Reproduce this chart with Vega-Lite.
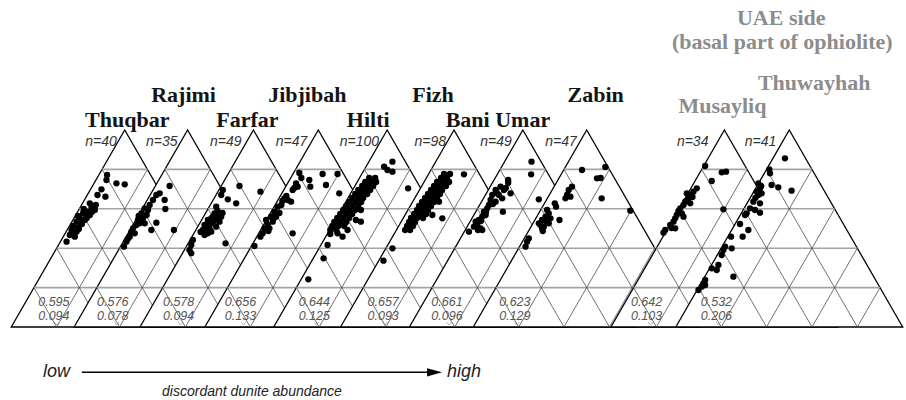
{
"$schema": "https://vega.github.io/schema/vega-lite/v6.json",
"width": 906, "height": 400, "padding": 0,
"autosize": {"type": "fit", "contains": "padding"},
"background": "white",
"config": {"view": {"stroke": null}},
"datasets": {
"tri": [
{"t":1,"x":11.3,"y":327,"yb":327},{"t":1,"x":125,"y":130,"yb":327},{"t":1,"x":238.7,"y":327,"yb":327},
{"t":2,"x":74.3,"y":327,"yb":327},{"t":2,"x":188,"y":130,"yb":327},{"t":2,"x":301.7,"y":327,"yb":327},
{"t":3,"x":140.3,"y":327,"yb":327},{"t":3,"x":254,"y":130,"yb":327},{"t":3,"x":367.7,"y":327,"yb":327},
{"t":4,"x":205.3,"y":327,"yb":327},{"t":4,"x":319,"y":130,"yb":327},{"t":4,"x":432.7,"y":327,"yb":327},
{"t":5,"x":274.3,"y":327,"yb":327},{"t":5,"x":388,"y":130,"yb":327},{"t":5,"x":501.7,"y":327,"yb":327},
{"t":6,"x":341.3,"y":327,"yb":327},{"t":6,"x":455,"y":130,"yb":327},{"t":6,"x":568.7,"y":327,"yb":327},
{"t":7,"x":410.3,"y":327,"yb":327},{"t":7,"x":524,"y":130,"yb":327},{"t":7,"x":637.7,"y":327,"yb":327},
{"t":8,"x":474.3,"y":327,"yb":327},{"t":8,"x":588,"y":130,"yb":327},{"t":8,"x":701.7,"y":327,"yb":327},
{"t":9,"x":612.3,"y":327,"yb":327},{"t":9,"x":726,"y":130,"yb":327},{"t":9,"x":839.7,"y":327,"yb":327},
{"t":10,"x":677.3,"y":327,"yb":327},{"t":10,"x":791,"y":130,"yb":327},{"t":10,"x":904.7,"y":327,"yb":327}
],
"grid": [
{"t":1,"k":"h","x":34,"y":287.6,"x2":216,"y2":287.6},{"t":1,"k":"h","x":56.8,"y":248.2,"x2":193.2,"y2":248.2},{"t":1,"k":"h","x":79.5,"y":208.8,"x2":170.5,"y2":208.8},{"t":1,"k":"h","x":102.2,"y":169.4,"x2":147.8,"y2":169.4},
{"t":1,"k":"d","x":56.8,"y":327,"x2":147.8,"y2":169.4},{"t":1,"k":"d","x":102.2,"y":327,"x2":170.5,"y2":208.8},{"t":1,"k":"d","x":147.8,"y":327,"x2":193.2,"y2":248.2},{"t":1,"k":"d","x":193.2,"y":327,"x2":216,"y2":287.6},
{"t":1,"k":"d","x":193.2,"y":327,"x2":102.2,"y2":169.4},{"t":1,"k":"d","x":147.8,"y":327,"x2":79.5,"y2":208.8},{"t":1,"k":"d","x":102.2,"y":327,"x2":56.8,"y2":248.2},{"t":1,"k":"d","x":56.8,"y":327,"x2":34,"y2":287.6},
{"t":2,"k":"h","x":97,"y":287.6,"x2":279,"y2":287.6},{"t":2,"k":"h","x":119.8,"y":248.2,"x2":256.2,"y2":248.2},{"t":2,"k":"h","x":142.5,"y":208.8,"x2":233.5,"y2":208.8},{"t":2,"k":"h","x":165.2,"y":169.4,"x2":210.8,"y2":169.4},
{"t":2,"k":"d","x":119.8,"y":327,"x2":210.8,"y2":169.4},{"t":2,"k":"d","x":165.2,"y":327,"x2":233.5,"y2":208.8},{"t":2,"k":"d","x":210.8,"y":327,"x2":256.2,"y2":248.2},{"t":2,"k":"d","x":256.2,"y":327,"x2":279,"y2":287.6},
{"t":2,"k":"d","x":256.2,"y":327,"x2":165.2,"y2":169.4},{"t":2,"k":"d","x":210.8,"y":327,"x2":142.5,"y2":208.8},{"t":2,"k":"d","x":165.2,"y":327,"x2":119.8,"y2":248.2},{"t":2,"k":"d","x":119.8,"y":327,"x2":97,"y2":287.6},
{"t":3,"k":"h","x":163,"y":287.6,"x2":345,"y2":287.6},{"t":3,"k":"h","x":185.8,"y":248.2,"x2":322.2,"y2":248.2},{"t":3,"k":"h","x":208.5,"y":208.8,"x2":299.5,"y2":208.8},{"t":3,"k":"h","x":231.2,"y":169.4,"x2":276.8,"y2":169.4},
{"t":3,"k":"d","x":185.8,"y":327,"x2":276.8,"y2":169.4},{"t":3,"k":"d","x":231.2,"y":327,"x2":299.5,"y2":208.8},{"t":3,"k":"d","x":276.8,"y":327,"x2":322.2,"y2":248.2},{"t":3,"k":"d","x":322.2,"y":327,"x2":345,"y2":287.6},
{"t":3,"k":"d","x":322.2,"y":327,"x2":231.2,"y2":169.4},{"t":3,"k":"d","x":276.8,"y":327,"x2":208.5,"y2":208.8},{"t":3,"k":"d","x":231.2,"y":327,"x2":185.8,"y2":248.2},{"t":3,"k":"d","x":185.8,"y":327,"x2":163,"y2":287.6},
{"t":4,"k":"h","x":228,"y":287.6,"x2":410,"y2":287.6},{"t":4,"k":"h","x":250.8,"y":248.2,"x2":387.2,"y2":248.2},{"t":4,"k":"h","x":273.5,"y":208.8,"x2":364.5,"y2":208.8},{"t":4,"k":"h","x":296.2,"y":169.4,"x2":341.8,"y2":169.4},
{"t":4,"k":"d","x":250.8,"y":327,"x2":341.8,"y2":169.4},{"t":4,"k":"d","x":296.2,"y":327,"x2":364.5,"y2":208.8},{"t":4,"k":"d","x":341.8,"y":327,"x2":387.2,"y2":248.2},{"t":4,"k":"d","x":387.2,"y":327,"x2":410,"y2":287.6},
{"t":4,"k":"d","x":387.2,"y":327,"x2":296.2,"y2":169.4},{"t":4,"k":"d","x":341.8,"y":327,"x2":273.5,"y2":208.8},{"t":4,"k":"d","x":296.2,"y":327,"x2":250.8,"y2":248.2},{"t":4,"k":"d","x":250.8,"y":327,"x2":228,"y2":287.6},
{"t":5,"k":"h","x":297,"y":287.6,"x2":479,"y2":287.6},{"t":5,"k":"h","x":319.8,"y":248.2,"x2":456.2,"y2":248.2},{"t":5,"k":"h","x":342.5,"y":208.8,"x2":433.5,"y2":208.8},{"t":5,"k":"h","x":365.2,"y":169.4,"x2":410.8,"y2":169.4},
{"t":5,"k":"d","x":319.8,"y":327,"x2":410.8,"y2":169.4},{"t":5,"k":"d","x":365.2,"y":327,"x2":433.5,"y2":208.8},{"t":5,"k":"d","x":410.8,"y":327,"x2":456.2,"y2":248.2},{"t":5,"k":"d","x":456.2,"y":327,"x2":479,"y2":287.6},
{"t":5,"k":"d","x":456.2,"y":327,"x2":365.2,"y2":169.4},{"t":5,"k":"d","x":410.8,"y":327,"x2":342.5,"y2":208.8},{"t":5,"k":"d","x":365.2,"y":327,"x2":319.8,"y2":248.2},{"t":5,"k":"d","x":319.8,"y":327,"x2":297,"y2":287.6},
{"t":6,"k":"h","x":364,"y":287.6,"x2":546,"y2":287.6},{"t":6,"k":"h","x":386.8,"y":248.2,"x2":523.2,"y2":248.2},{"t":6,"k":"h","x":409.5,"y":208.8,"x2":500.5,"y2":208.8},{"t":6,"k":"h","x":432.2,"y":169.4,"x2":477.8,"y2":169.4},
{"t":6,"k":"d","x":386.8,"y":327,"x2":477.8,"y2":169.4},{"t":6,"k":"d","x":432.2,"y":327,"x2":500.5,"y2":208.8},{"t":6,"k":"d","x":477.8,"y":327,"x2":523.2,"y2":248.2},{"t":6,"k":"d","x":523.2,"y":327,"x2":546,"y2":287.6},
{"t":6,"k":"d","x":523.2,"y":327,"x2":432.2,"y2":169.4},{"t":6,"k":"d","x":477.8,"y":327,"x2":409.5,"y2":208.8},{"t":6,"k":"d","x":432.2,"y":327,"x2":386.8,"y2":248.2},{"t":6,"k":"d","x":386.8,"y":327,"x2":364,"y2":287.6},
{"t":7,"k":"h","x":433,"y":287.6,"x2":615,"y2":287.6},{"t":7,"k":"h","x":455.8,"y":248.2,"x2":592.2,"y2":248.2},{"t":7,"k":"h","x":478.5,"y":208.8,"x2":569.5,"y2":208.8},{"t":7,"k":"h","x":501.2,"y":169.4,"x2":546.8,"y2":169.4},
{"t":7,"k":"d","x":455.8,"y":327,"x2":546.8,"y2":169.4},{"t":7,"k":"d","x":501.2,"y":327,"x2":569.5,"y2":208.8},{"t":7,"k":"d","x":546.8,"y":327,"x2":592.2,"y2":248.2},{"t":7,"k":"d","x":592.2,"y":327,"x2":615,"y2":287.6},
{"t":7,"k":"d","x":592.2,"y":327,"x2":501.2,"y2":169.4},{"t":7,"k":"d","x":546.8,"y":327,"x2":478.5,"y2":208.8},{"t":7,"k":"d","x":501.2,"y":327,"x2":455.8,"y2":248.2},{"t":7,"k":"d","x":455.8,"y":327,"x2":433,"y2":287.6},
{"t":8,"k":"h","x":497,"y":287.6,"x2":679,"y2":287.6},{"t":8,"k":"h","x":519.8,"y":248.2,"x2":656.2,"y2":248.2},{"t":8,"k":"h","x":542.5,"y":208.8,"x2":633.5,"y2":208.8},{"t":8,"k":"h","x":565.2,"y":169.4,"x2":610.8,"y2":169.4},
{"t":8,"k":"d","x":519.8,"y":327,"x2":610.8,"y2":169.4},{"t":8,"k":"d","x":565.2,"y":327,"x2":633.5,"y2":208.8},{"t":8,"k":"d","x":610.8,"y":327,"x2":656.2,"y2":248.2},{"t":8,"k":"d","x":656.2,"y":327,"x2":679,"y2":287.6},
{"t":8,"k":"d","x":656.2,"y":327,"x2":565.2,"y2":169.4},{"t":8,"k":"d","x":610.8,"y":327,"x2":542.5,"y2":208.8},{"t":8,"k":"d","x":565.2,"y":327,"x2":519.8,"y2":248.2},{"t":8,"k":"d","x":519.8,"y":327,"x2":497,"y2":287.6},
{"t":9,"k":"h","x":635,"y":287.6,"x2":817,"y2":287.6},{"t":9,"k":"h","x":657.8,"y":248.2,"x2":794.2,"y2":248.2},{"t":9,"k":"h","x":680.5,"y":208.8,"x2":771.5,"y2":208.8},{"t":9,"k":"h","x":703.2,"y":169.4,"x2":748.8,"y2":169.4},
{"t":9,"k":"d","x":657.8,"y":327,"x2":748.8,"y2":169.4},{"t":9,"k":"d","x":703.2,"y":327,"x2":771.5,"y2":208.8},{"t":9,"k":"d","x":748.8,"y":327,"x2":794.2,"y2":248.2},{"t":9,"k":"d","x":794.2,"y":327,"x2":817,"y2":287.6},
{"t":9,"k":"d","x":794.2,"y":327,"x2":703.2,"y2":169.4},{"t":9,"k":"d","x":748.8,"y":327,"x2":680.5,"y2":208.8},{"t":9,"k":"d","x":703.2,"y":327,"x2":657.8,"y2":248.2},{"t":9,"k":"d","x":657.8,"y":327,"x2":635,"y2":287.6},
{"t":10,"k":"h","x":700,"y":287.6,"x2":882,"y2":287.6},{"t":10,"k":"h","x":722.8,"y":248.2,"x2":859.2,"y2":248.2},{"t":10,"k":"h","x":745.5,"y":208.8,"x2":836.5,"y2":208.8},{"t":10,"k":"h","x":768.2,"y":169.4,"x2":813.8,"y2":169.4},
{"t":10,"k":"d","x":722.8,"y":327,"x2":813.8,"y2":169.4},{"t":10,"k":"d","x":768.2,"y":327,"x2":836.5,"y2":208.8},{"t":10,"k":"d","x":813.8,"y":327,"x2":859.2,"y2":248.2},{"t":10,"k":"d","x":859.2,"y":327,"x2":882,"y2":287.6},
{"t":10,"k":"d","x":859.2,"y":327,"x2":768.2,"y2":169.4},{"t":10,"k":"d","x":813.8,"y":327,"x2":745.5,"y2":208.8},{"t":10,"k":"d","x":768.2,"y":327,"x2":722.8,"y2":248.2},{"t":10,"k":"d","x":722.8,"y":327,"x2":700,"y2":287.6}
],
"pts": [
{"t":1,"x":107.3,"y":175},{"t":1,"x":106.7,"y":180},{"t":1,"x":116.7,"y":183.3},{"t":1,"x":125,"y":184.3},{"t":1,"x":101.7,"y":189.3},{"t":1,"x":97.7,"y":195},{"t":1,"x":105.7,"y":196.7},{"t":1,"x":90,"y":203.3},{"t":1,"x":93.3,"y":208.3},{"t":1,"x":91.7,"y":206.7},{"t":1,"x":95,"y":210},{"t":1,"x":88.3,"y":211.7},{"t":1,"x":83.3,"y":213.3},{"t":1,"x":90,"y":215},{"t":1,"x":86.7,"y":216},{"t":1,"x":80,"y":218.3},{"t":1,"x":85,"y":220},{"t":1,"x":76.7,"y":221.7},{"t":1,"x":81.7,"y":223.3},{"t":1,"x":73.3,"y":226},{"t":1,"x":78.3,"y":227.3},{"t":1,"x":71.7,"y":230},{"t":1,"x":76.7,"y":231.7},{"t":1,"x":70,"y":235},{"t":1,"x":75,"y":236.7},{"t":1,"x":66.7,"y":241.7},{"t":1,"x":92,"y":212},{"t":1,"x":87,"y":218},{"t":1,"x":82,"y":224},{"t":1,"x":79,"y":229},{"t":1,"x":74,"y":233},{"t":1,"x":96,"y":205},{"t":1,"x":84,"y":209},{"t":1,"x":78,"y":216},
{"t":2,"x":170,"y":186},{"t":2,"x":160,"y":193.3},{"t":2,"x":156.7,"y":195},{"t":2,"x":153.3,"y":200},{"t":2,"x":165,"y":200},{"t":2,"x":165.7,"y":209},{"t":2,"x":150,"y":205},{"t":2,"x":148.3,"y":210},{"t":2,"x":145,"y":208.3},{"t":2,"x":141.7,"y":213.3},{"t":2,"x":143.3,"y":218.3},{"t":2,"x":138.3,"y":220},{"t":2,"x":156.7,"y":222.7},{"t":2,"x":151.7,"y":230},{"t":2,"x":174.3,"y":230},{"t":2,"x":136.7,"y":225},{"t":2,"x":133.3,"y":228.3},{"t":2,"x":135,"y":233.3},{"t":2,"x":130,"y":236.7},{"t":2,"x":126.7,"y":241.7},{"t":2,"x":124.3,"y":246.7},{"t":2,"x":140,"y":223.3},{"t":2,"x":131.7,"y":231.7},{"t":2,"x":145,"y":223.3},{"t":2,"x":139,"y":216},{"t":2,"x":147,"y":215},{"t":2,"x":128,"y":239},
{"t":3,"x":240,"y":186},{"t":3,"x":261,"y":191.7},{"t":3,"x":223.3,"y":190},{"t":3,"x":221.7,"y":195},{"t":3,"x":228.3,"y":199.3},{"t":3,"x":236.7,"y":203.3},{"t":3,"x":216.7,"y":206.7},{"t":3,"x":215,"y":213.3},{"t":3,"x":218.3,"y":216.7},{"t":3,"x":211.7,"y":218.3},{"t":3,"x":208.3,"y":220},{"t":3,"x":220,"y":221.7},{"t":3,"x":213.3,"y":223.3},{"t":3,"x":205,"y":225},{"t":3,"x":210,"y":228.3},{"t":3,"x":216.7,"y":226.7},{"t":3,"x":203.3,"y":230},{"t":3,"x":208.3,"y":233.3},{"t":3,"x":211.7,"y":231.7},{"t":3,"x":215,"y":220},{"t":3,"x":221.7,"y":216.7},{"t":3,"x":226,"y":243.3},{"t":3,"x":193.3,"y":240},{"t":3,"x":191.7,"y":245},{"t":3,"x":190,"y":250},{"t":3,"x":191.7,"y":253.3},{"t":3,"x":218,"y":211},{"t":3,"x":213,"y":217},{"t":3,"x":206,"y":229},{"t":3,"x":201,"y":232},{"t":3,"x":223,"y":213},{"t":3,"x":209,"y":224},{"t":3,"x":205,"y":235},
{"t":4,"x":300,"y":173},{"t":4,"x":310,"y":180},{"t":4,"x":311,"y":186.7},{"t":4,"x":323.3,"y":174},{"t":4,"x":338.3,"y":174},{"t":4,"x":326.7,"y":185},{"t":4,"x":340,"y":193.3},{"t":4,"x":296.7,"y":183.3},{"t":4,"x":298.3,"y":186.7},{"t":4,"x":293.3,"y":190},{"t":4,"x":288.3,"y":200},{"t":4,"x":285,"y":198.3},{"t":4,"x":291.7,"y":201.7},{"t":4,"x":278.3,"y":206.7},{"t":4,"x":275,"y":211.7},{"t":4,"x":271.7,"y":216.7},{"t":4,"x":273.3,"y":221.7},{"t":4,"x":268.3,"y":225},{"t":4,"x":265,"y":228.3},{"t":4,"x":263.3,"y":233.3},{"t":4,"x":261,"y":236.7},{"t":4,"x":270,"y":228.3},{"t":4,"x":276.7,"y":216.7},{"t":4,"x":266.7,"y":220},{"t":4,"x":293.3,"y":233.3},{"t":4,"x":255,"y":246},{"t":4,"x":282,"y":205},{"t":4,"x":280,"y":213},{"t":4,"x":295,"y":188},{"t":4,"x":287,"y":196},{"t":4,"x":283,"y":201},{"t":4,"x":274,"y":219},{"t":4,"x":269,"y":231},{"t":4,"x":302,"y":178},
{"t":5,"x":393.3,"y":161.7},{"t":5,"x":385,"y":166.7},{"t":5,"x":388.3,"y":170},{"t":5,"x":393.3,"y":171.7},{"t":5,"x":409,"y":188.3},{"t":5,"x":361.7,"y":210},{"t":5,"x":356.7,"y":220},{"t":5,"x":361.7,"y":221.7},{"t":5,"x":348.3,"y":230},{"t":5,"x":343.3,"y":236.7},{"t":5,"x":338.3,"y":233.3},{"t":5,"x":328.3,"y":245},{"t":5,"x":324.3,"y":258.3},{"t":5,"x":309,"y":279.3},
{"t":5,"x":370,"y":178},{"t":5,"x":376,"y":178},{"t":5,"x":366,"y":182},{"t":5,"x":372,"y":182},{"t":5,"x":377,"y":182},{"t":5,"x":363,"y":186},{"t":5,"x":369,"y":186},{"t":5,"x":374,"y":186},{"t":5,"x":359,"y":190},{"t":5,"x":365,"y":190},{"t":5,"x":371,"y":190},{"t":5,"x":356,"y":194},{"t":5,"x":362,"y":194},{"t":5,"x":368,"y":194},{"t":5,"x":353,"y":198},{"t":5,"x":359,"y":198},{"t":5,"x":364,"y":198},{"t":5,"x":350,"y":202},{"t":5,"x":356,"y":202},{"t":5,"x":362,"y":202},{"t":5,"x":347,"y":206},{"t":5,"x":353,"y":206},{"t":5,"x":359,"y":206},{"t":5,"x":344,"y":210},{"t":5,"x":350,"y":210},{"t":5,"x":356,"y":210},{"t":5,"x":341,"y":214},{"t":5,"x":347,"y":214},{"t":5,"x":353,"y":214},{"t":5,"x":338,"y":218},{"t":5,"x":344,"y":218},{"t":5,"x":350,"y":218},{"t":5,"x":335,"y":222},{"t":5,"x":341,"y":222},{"t":5,"x":347,"y":222},{"t":5,"x":333,"y":226},{"t":5,"x":339,"y":226},{"t":5,"x":345,"y":226},{"t":5,"x":331,"y":230},{"t":5,"x":337,"y":230},{"t":5,"x":331,"y":234},
{"t":6,"x":445,"y":174},{"t":6,"x":451,"y":174},{"t":6,"x":442,"y":178},{"t":6,"x":448,"y":178},{"t":6,"x":438,"y":182},{"t":6,"x":444,"y":182},{"t":6,"x":450,"y":182},{"t":6,"x":435,"y":186},{"t":6,"x":441,"y":186},{"t":6,"x":447,"y":186},{"t":6,"x":432,"y":190},{"t":6,"x":438,"y":190},{"t":6,"x":443,"y":190},{"t":6,"x":429,"y":194},{"t":6,"x":435,"y":194},{"t":6,"x":441,"y":194},{"t":6,"x":426,"y":198},{"t":6,"x":432,"y":198},{"t":6,"x":438,"y":198},{"t":6,"x":423,"y":202},{"t":6,"x":429,"y":202},{"t":6,"x":435,"y":202},{"t":6,"x":420,"y":206},{"t":6,"x":426,"y":206},{"t":6,"x":432,"y":206},{"t":6,"x":418,"y":210},{"t":6,"x":424,"y":210},{"t":6,"x":429,"y":210},{"t":6,"x":415,"y":214},{"t":6,"x":421,"y":214},{"t":6,"x":427,"y":214},{"t":6,"x":412,"y":218},{"t":6,"x":418,"y":218},{"t":6,"x":424,"y":218},{"t":6,"x":410,"y":222},{"t":6,"x":416,"y":222},{"t":6,"x":408,"y":226},{"t":6,"x":414,"y":226},{"t":6,"x":406,"y":230},{"t":6,"x":411,"y":230},
{"t":6,"x":465,"y":174.3},{"t":6,"x":443.3,"y":218.3},{"t":6,"x":440,"y":201.7},{"t":6,"x":433.3,"y":215},{"t":6,"x":393.3,"y":248.3},{"t":6,"x":384.3,"y":260.7},
{"t":7,"x":509.3,"y":180},{"t":7,"x":509.3,"y":182.7},{"t":7,"x":501.7,"y":186.7},{"t":7,"x":505,"y":190},{"t":7,"x":511.7,"y":193.3},{"t":7,"x":496.7,"y":190},{"t":7,"x":493.3,"y":195},{"t":7,"x":500,"y":195},{"t":7,"x":491.7,"y":200},{"t":7,"x":496.7,"y":201.7},{"t":7,"x":503.3,"y":198.3},{"t":7,"x":504,"y":211.7},{"t":7,"x":488.3,"y":208.3},{"t":7,"x":485,"y":211.7},{"t":7,"x":483.3,"y":216.7},{"t":7,"x":480,"y":220},{"t":7,"x":478.3,"y":225},{"t":7,"x":475,"y":226.7},{"t":7,"x":481.7,"y":228.3},{"t":7,"x":470,"y":231.7},{"t":7,"x":476.7,"y":221.7},{"t":7,"x":486.7,"y":215},{"t":7,"x":490,"y":205},{"t":7,"x":483.3,"y":230},{"t":7,"x":498,"y":193},{"t":7,"x":494,"y":204},{"t":7,"x":487,"y":212},{"t":7,"x":482,"y":221},{"t":7,"x":479,"y":230},{"t":7,"x":507,"y":188},
{"t":8,"x":532.7,"y":161.7},{"t":8,"x":532.3,"y":174.3},{"t":8,"x":583.3,"y":170},{"t":8,"x":598.3,"y":178.3},{"t":8,"x":602,"y":178},{"t":8,"x":606.7,"y":167},{"t":8,"x":603,"y":198.3},{"t":8,"x":631.7,"y":210.7},{"t":8,"x":573.3,"y":186.7},{"t":8,"x":570,"y":190},{"t":8,"x":568.3,"y":195},{"t":8,"x":566.7,"y":198.3},{"t":8,"x":571.7,"y":196.7},{"t":8,"x":540,"y":199.3},{"t":8,"x":556,"y":203.3},{"t":8,"x":557.3,"y":206.7},{"t":8,"x":548.3,"y":210},{"t":8,"x":560.7,"y":220},{"t":8,"x":550,"y":213.3},{"t":8,"x":546.7,"y":216.7},{"t":8,"x":543.3,"y":220},{"t":8,"x":540,"y":223.3},{"t":8,"x":545,"y":226.7},{"t":8,"x":550,"y":223.3},{"t":8,"x":551.7,"y":218.3},{"t":8,"x":543.3,"y":228.3},{"t":8,"x":541.7,"y":225},{"t":8,"x":530,"y":238.3},{"t":8,"x":528.3,"y":241.7},{"t":8,"x":526.7,"y":246.7},{"t":8,"x":547,"y":221},{"t":8,"x":544,"y":231},
{"t":9,"x":706.7,"y":166},{"t":9,"x":723.3,"y":172.3},{"t":9,"x":727.7,"y":171.7},{"t":9,"x":713.3,"y":181},{"t":9,"x":698.3,"y":188.3},{"t":9,"x":695,"y":191.7},{"t":9,"x":691.7,"y":195},{"t":9,"x":690,"y":198.3},{"t":9,"x":686.7,"y":201.7},{"t":9,"x":685,"y":205},{"t":9,"x":681.7,"y":208.3},{"t":9,"x":683.3,"y":213.3},{"t":9,"x":678.3,"y":215},{"t":9,"x":676.7,"y":218.3},{"t":9,"x":675,"y":221.7},{"t":9,"x":671.7,"y":225},{"t":9,"x":666.7,"y":230},{"t":9,"x":665,"y":232.7},{"t":9,"x":676.7,"y":228.3},{"t":9,"x":688.3,"y":193.3},{"t":9,"x":685,"y":216.7},{"t":9,"x":691.7,"y":203.3},{"t":9,"x":725,"y":209.3},{"t":9,"x":694,"y":197},{"t":9,"x":680,"y":211},{"t":9,"x":673,"y":228},
{"t":10,"x":786.7,"y":158.3},{"t":10,"x":771,"y":169.3},{"t":10,"x":771.7,"y":173.3},{"t":10,"x":773.3,"y":185},{"t":10,"x":780,"y":187.3},{"t":10,"x":793.3,"y":190.7},{"t":10,"x":760,"y":183.3},{"t":10,"x":761.7,"y":188.3},{"t":10,"x":763.3,"y":193.3},{"t":10,"x":758.3,"y":191.7},{"t":10,"x":760,"y":195},{"t":10,"x":755,"y":201.7},{"t":10,"x":761.7,"y":203.3},{"t":10,"x":751.7,"y":208.3},{"t":10,"x":756.7,"y":210},{"t":10,"x":761.7,"y":212.7},{"t":10,"x":748.3,"y":213.3},{"t":10,"x":746.7,"y":215},{"t":10,"x":741.7,"y":224},{"t":10,"x":750,"y":230},{"t":10,"x":744.3,"y":236.7},{"t":10,"x":732.7,"y":236.7},{"t":10,"x":726.7,"y":246.7},{"t":10,"x":733.3,"y":248.3},{"t":10,"x":725,"y":250},{"t":10,"x":723.3,"y":255},{"t":10,"x":720,"y":265},{"t":10,"x":718.3,"y":270},{"t":10,"x":713.3,"y":268.3},{"t":10,"x":735,"y":276.7},{"t":10,"x":706.7,"y":280},{"t":10,"x":705,"y":283.3},{"t":10,"x":703.3,"y":286.7},{"t":10,"x":700,"y":290},{"t":10,"x":706.7,"y":285},{"t":10,"x":763,"y":186},{"t":10,"x":757,"y":198}
],
"names": [
{"text":"Rajimi","x":184,"y":101.5},{"text":"Jibjibah","x":308,"y":101.5},{"text":"Fizh","x":434,"y":101.5},{"text":"Zabin","x":597,"y":101.5},
{"text":"Thuqbar","x":127.5,"y":126.5},{"text":"Farfar","x":248,"y":126.5},{"text":"Hilti","x":369,"y":126.5},{"text":"Bani Umar","x":499,"y":126.5}
],
"uae": [
{"text":"UAE side","x":783,"y":25},{"text":"(basal part of ophiolite)","x":784,"y":49},{"text":"Thuwayhah","x":816,"y":90},{"text":"Musayliq","x":724,"y":113}
],
"nlab": [
{"text":"n=40","x":117,"y":146},{"text":"n=35","x":178,"y":146},{"text":"n=49","x":242,"y":146},{"text":"n=47","x":308,"y":146},{"text":"n=100","x":380,"y":146},
{"text":"n=98","x":447,"y":146},{"text":"n=49","x":513,"y":146},{"text":"n=47","x":578,"y":146},{"text":"n=34","x":710,"y":146},{"text":"n=41","x":778,"y":146}
],
"vals": [
{"text":"0.595","x":54,"y":306},{"text":"0.094","x":54,"y":320},
{"text":"0.576","x":113,"y":306},{"text":"0.078","x":113,"y":320},
{"text":"0.578","x":179,"y":306},{"text":"0.094","x":179,"y":320},
{"text":"0.656","x":241,"y":306},{"text":"0.133","x":241,"y":320},
{"text":"0.644","x":315,"y":306},{"text":"0.125","x":315,"y":320},
{"text":"0.657","x":384,"y":306},{"text":"0.093","x":384,"y":320},
{"text":"0.661","x":448,"y":306},{"text":"0.096","x":448,"y":320},
{"text":"0.623","x":516,"y":306},{"text":"0.129","x":516,"y":320},
{"text":"0.642","x":648,"y":306},{"text":"0.103","x":648,"y":320},
{"text":"0.532","x":718,"y":306},{"text":"0.206","x":718,"y":320}
],
"ticks": [
{"x":57,"y":323.5},{"x":117,"y":323.5},{"x":181,"y":323.5},{"x":244,"y":323.5},{"x":317,"y":323.5},{"x":386,"y":323.5},{"x":450,"y":323.5},{"x":518,"y":323.5},{"x":652,"y":323.5},{"x":720,"y":323.5}
],
"arrow": [{"x":82,"y":372.3,"x2":431,"y2":372.3}],
"head": [{"x":435.5,"y":372.3}],
"lowhigh": [{"text":"low","x":43,"y":377},{"text":"high","x":448,"y":377}],
"caption": [{"text":"discordant dunite abundance","x":252.5,"y":396}]
},
"encoding": {
"x": {"field":"x","type":"quantitative","scale":{"domain":[0,906],"nice":false,"zero":false},"axis":null},
"y": {"field":"y","type":"quantitative","scale":{"domain":[0,400],"reverse":true,"nice":false,"zero":false},"axis":null}
},
"layer": [
{"data":{"name":"tri"},"transform":[{"filter":"datum.t==1"}],"mark":{"type":"area","fill":"white","stroke":"black","strokeWidth":1.3},"encoding":{"y2":{"field":"yb"}}},
{"data":{"name":"grid"},"transform":[{"filter":"datum.t==1"}],"mark":"rule","encoding":{"x2":{"field":"x2"},"y2":{"field":"y2"},"color":{"field":"k","type":"ordinal","scale":{"domain":["h","d"],"range":["#a3a3a3","#4d4d4d"]},"legend":null},"strokeWidth":{"field":"k","type":"ordinal","scale":{"domain":["h","d"],"range":[1.6,0.8]},"legend":null}}},
{"data":{"name":"tri"},"transform":[{"filter":"datum.t==2"}],"mark":{"type":"area","fill":"white","stroke":"black","strokeWidth":1.3},"encoding":{"y2":{"field":"yb"}}},
{"data":{"name":"grid"},"transform":[{"filter":"datum.t==2"}],"mark":"rule","encoding":{"x2":{"field":"x2"},"y2":{"field":"y2"},"color":{"field":"k","type":"ordinal","scale":{"domain":["h","d"],"range":["#a3a3a3","#4d4d4d"]},"legend":null},"strokeWidth":{"field":"k","type":"ordinal","scale":{"domain":["h","d"],"range":[1.6,0.8]},"legend":null}}},
{"data":{"name":"tri"},"transform":[{"filter":"datum.t==3"}],"mark":{"type":"area","fill":"white","stroke":"black","strokeWidth":1.3},"encoding":{"y2":{"field":"yb"}}},
{"data":{"name":"grid"},"transform":[{"filter":"datum.t==3"}],"mark":"rule","encoding":{"x2":{"field":"x2"},"y2":{"field":"y2"},"color":{"field":"k","type":"ordinal","scale":{"domain":["h","d"],"range":["#a3a3a3","#4d4d4d"]},"legend":null},"strokeWidth":{"field":"k","type":"ordinal","scale":{"domain":["h","d"],"range":[1.6,0.8]},"legend":null}}},
{"data":{"name":"tri"},"transform":[{"filter":"datum.t==4"}],"mark":{"type":"area","fill":"white","stroke":"black","strokeWidth":1.3},"encoding":{"y2":{"field":"yb"}}},
{"data":{"name":"grid"},"transform":[{"filter":"datum.t==4"}],"mark":"rule","encoding":{"x2":{"field":"x2"},"y2":{"field":"y2"},"color":{"field":"k","type":"ordinal","scale":{"domain":["h","d"],"range":["#a3a3a3","#4d4d4d"]},"legend":null},"strokeWidth":{"field":"k","type":"ordinal","scale":{"domain":["h","d"],"range":[1.6,0.8]},"legend":null}}},
{"data":{"name":"tri"},"transform":[{"filter":"datum.t==5"}],"mark":{"type":"area","fill":"white","stroke":"black","strokeWidth":1.3},"encoding":{"y2":{"field":"yb"}}},
{"data":{"name":"grid"},"transform":[{"filter":"datum.t==5"}],"mark":"rule","encoding":{"x2":{"field":"x2"},"y2":{"field":"y2"},"color":{"field":"k","type":"ordinal","scale":{"domain":["h","d"],"range":["#a3a3a3","#4d4d4d"]},"legend":null},"strokeWidth":{"field":"k","type":"ordinal","scale":{"domain":["h","d"],"range":[1.6,0.8]},"legend":null}}},
{"data":{"name":"tri"},"transform":[{"filter":"datum.t==6"}],"mark":{"type":"area","fill":"white","stroke":"black","strokeWidth":1.3},"encoding":{"y2":{"field":"yb"}}},
{"data":{"name":"grid"},"transform":[{"filter":"datum.t==6"}],"mark":"rule","encoding":{"x2":{"field":"x2"},"y2":{"field":"y2"},"color":{"field":"k","type":"ordinal","scale":{"domain":["h","d"],"range":["#a3a3a3","#4d4d4d"]},"legend":null},"strokeWidth":{"field":"k","type":"ordinal","scale":{"domain":["h","d"],"range":[1.6,0.8]},"legend":null}}},
{"data":{"name":"tri"},"transform":[{"filter":"datum.t==7"}],"mark":{"type":"area","fill":"white","stroke":"black","strokeWidth":1.3},"encoding":{"y2":{"field":"yb"}}},
{"data":{"name":"grid"},"transform":[{"filter":"datum.t==7"}],"mark":"rule","encoding":{"x2":{"field":"x2"},"y2":{"field":"y2"},"color":{"field":"k","type":"ordinal","scale":{"domain":["h","d"],"range":["#a3a3a3","#4d4d4d"]},"legend":null},"strokeWidth":{"field":"k","type":"ordinal","scale":{"domain":["h","d"],"range":[1.6,0.8]},"legend":null}}},
{"data":{"name":"tri"},"transform":[{"filter":"datum.t==8"}],"mark":{"type":"area","fill":"white","stroke":"black","strokeWidth":1.3},"encoding":{"y2":{"field":"yb"}}},
{"data":{"name":"grid"},"transform":[{"filter":"datum.t==8"}],"mark":"rule","encoding":{"x2":{"field":"x2"},"y2":{"field":"y2"},"color":{"field":"k","type":"ordinal","scale":{"domain":["h","d"],"range":["#a3a3a3","#4d4d4d"]},"legend":null},"strokeWidth":{"field":"k","type":"ordinal","scale":{"domain":["h","d"],"range":[1.6,0.8]},"legend":null}}},
{"data":{"name":"tri"},"transform":[{"filter":"datum.t==9"}],"mark":{"type":"area","fill":"white","stroke":"black","strokeWidth":1.3},"encoding":{"y2":{"field":"yb"}}},
{"data":{"name":"grid"},"transform":[{"filter":"datum.t==9"}],"mark":"rule","encoding":{"x2":{"field":"x2"},"y2":{"field":"y2"},"color":{"field":"k","type":"ordinal","scale":{"domain":["h","d"],"range":["#a3a3a3","#4d4d4d"]},"legend":null},"strokeWidth":{"field":"k","type":"ordinal","scale":{"domain":["h","d"],"range":[1.6,0.8]},"legend":null}}},
{"data":{"name":"tri"},"transform":[{"filter":"datum.t==10"}],"mark":{"type":"area","fill":"white","stroke":"black","strokeWidth":1.3},"encoding":{"y2":{"field":"yb"}}},
{"data":{"name":"grid"},"transform":[{"filter":"datum.t==10"}],"mark":"rule","encoding":{"x2":{"field":"x2"},"y2":{"field":"y2"},"color":{"field":"k","type":"ordinal","scale":{"domain":["h","d"],"range":["#a3a3a3","#4d4d4d"]},"legend":null},"strokeWidth":{"field":"k","type":"ordinal","scale":{"domain":["h","d"],"range":[1.6,0.8]},"legend":null}}},
{"data":{"name":"pts"},"mark":{"type":"circle","size":40,"color":"black","opacity":1}},
{"data":{"name":"names"},"mark":{"type":"text","font":"Liberation Serif","fontSize":22,"fontWeight":"bold","color":"#141414","align":"center","baseline":"alphabetic"},"encoding":{"text":{"field":"text"}}},
{"data":{"name":"uae"},"mark":{"type":"text","font":"Liberation Serif","fontSize":22,"fontWeight":"bold","color":"#8c8c8c","align":"center","baseline":"alphabetic"},"encoding":{"text":{"field":"text"}}},
{"data":{"name":"nlab"},"mark":{"type":"text","font":"Liberation Sans","fontSize":14,"fontStyle":"italic","color":"#333333","align":"right","baseline":"alphabetic"},"encoding":{"text":{"field":"text"}}},
{"data":{"name":"vals"},"mark":{"type":"text","font":"Liberation Sans","fontSize":12.5,"fontStyle":"italic","color":"#555555","align":"center","baseline":"alphabetic"},"encoding":{"text":{"field":"text"}}},
{"data":{"name":"ticks"},"mark":{"type":"point","shape":"M-1,-0.6L0,0.6L1,-0.6","filled":false,"size":25,"stroke":"#777777","strokeWidth":0.8}},
{"data":{"name":"arrow"},"mark":{"type":"rule","color":"black","strokeWidth":1.5},"encoding":{"x2":{"field":"x2"},"y2":{"field":"y2"}}},
{"data":{"name":"head"},"mark":{"type":"point","shape":"M-1,-0.55L1,0L-1,0.55Z","filled":true,"size":225,"color":"black","opacity":1}},
{"data":{"name":"lowhigh"},"mark":{"type":"text","font":"Liberation Sans","fontSize":18,"fontStyle":"italic","color":"#222222","align":"left","baseline":"alphabetic"},"encoding":{"text":{"field":"text"}}},
{"data":{"name":"caption"},"mark":{"type":"text","font":"Liberation Sans","fontSize":14,"fontStyle":"italic","color":"#222222","align":"center","baseline":"alphabetic"},"encoding":{"text":{"field":"text"}}}
]
}
